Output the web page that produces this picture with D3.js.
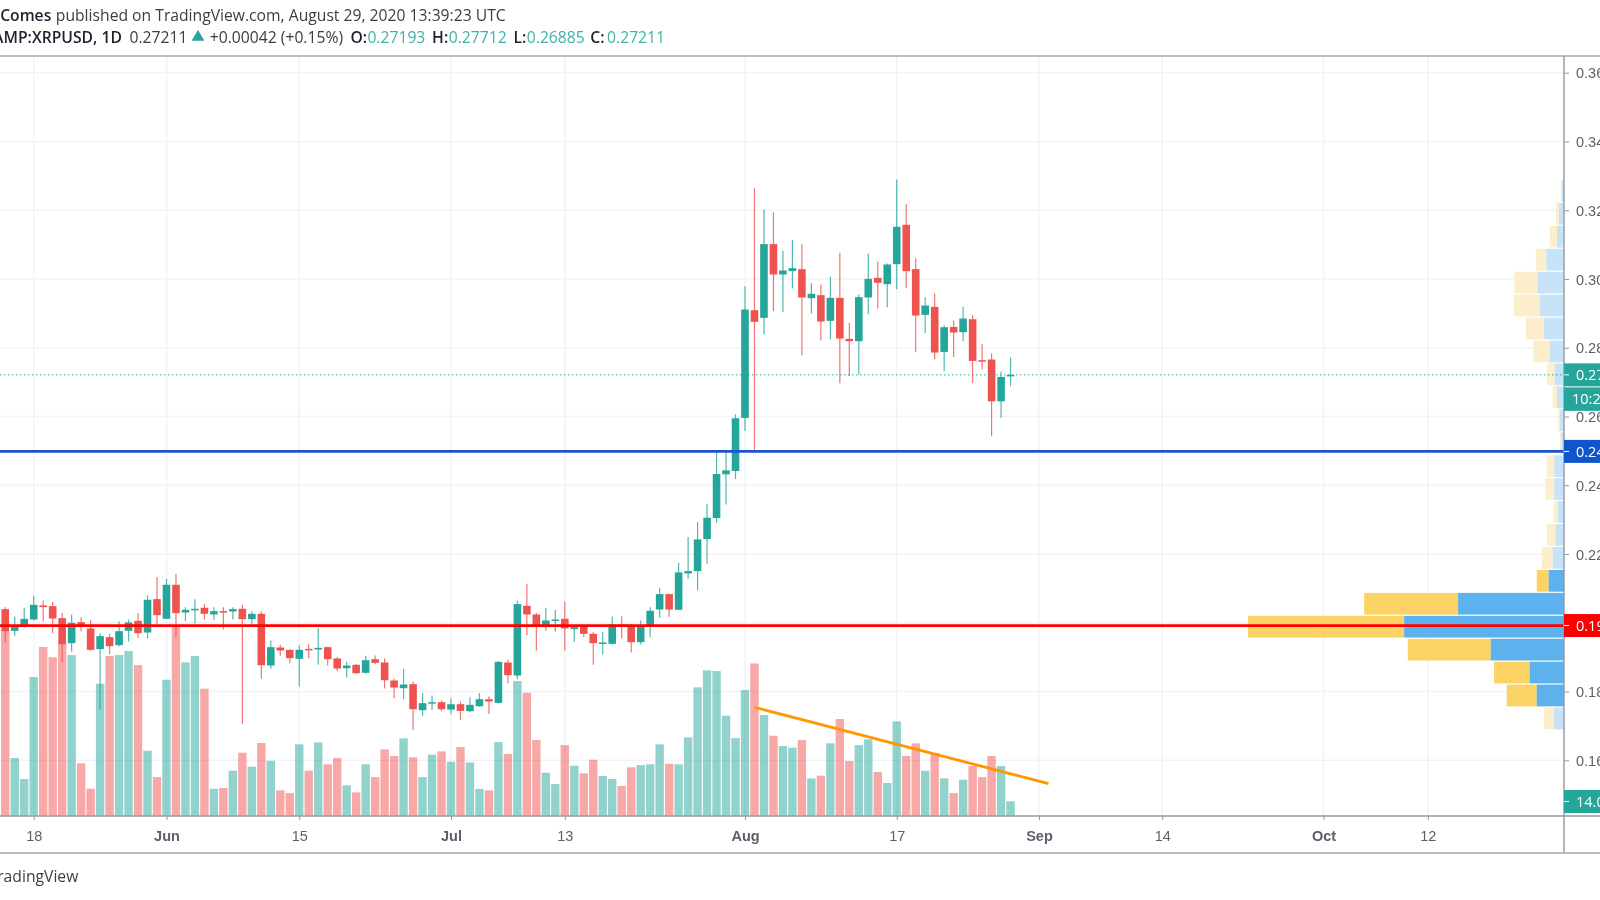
<!DOCTYPE html>
<html lang="en">

<head>
  <meta charset="UTF-8">
  <title>BITSTAMP:XRPUSD, 1D</title>
  <script src="https://d3js.org/d3.v7.min.js"></script>
  <style>
    html, body {
      margin: 0;
      padding: 0;
      background: #fff;
      overflow: hidden;
    }
    svg {
      display: block;
      font-family: "Open Sans", sans-serif;
      /* the reference is a slightly soft screenshot */
      filter: blur(0.35px);
    }
    .axis text {
      font-size: 14.5px;
      fill: #5d606b;
    }
    .axis .domain, .axis line {
      stroke: #9598a1;
    }
  </style>
</head>

<body>
  <svg id="chart" width="1600" height="900"></svg>

  <script>
    // ---------Data: daily candles---------
    const firstDay = "2020-05-15";

    const opens = [
      // May 15 - 31
      0.20397, 0.19766, 0.19883, 0.20096, 0.20504, 0.20484, 0.20135, 0.19407, 0.20019, 0.19834, 0.19233, 0.19582, 0.19349, 0.19766, 0.20057, 0.19718, 0.20688,
      // June
      0.20116, 0.21105, 0.20300, 0.20378, 0.20436, 0.20242, 0.20339, 0.20329, 0.20407, 0.20106, 0.20261, 0.18757, 0.19281, 0.19213, 0.18951, 0.19242, 0.19223, 0.19291, 0.18961, 0.18679, 0.18777, 0.18544, 0.18941, 0.18844, 0.18320, 0.18097, 0.18214, 0.17457, 0.17670, 0.17690,
      // July
      0.17476, 0.17631, 0.17428, 0.17573, 0.17777, 0.17670, 0.18844, 0.18466, 0.20494, 0.20242, 0.19873, 0.20067, 0.20116, 0.19815, 0.19902, 0.19679, 0.19398, 0.19388, 0.19951, 0.19941, 0.19436, 0.19922, 0.20387, 0.20834, 0.20378, 0.21436, 0.21504, 0.22435, 0.23046, 0.24318, 0.24415,
      // August
      0.25958, 0.29092, 0.28869, 0.31014, 0.30131, 0.30228, 0.30286, 0.29442, 0.29529, 0.28782, 0.29451, 0.28258, 0.28190, 0.29461, 0.30033, 0.29849, 0.30431, 0.31576, 0.30286, 0.28956, 0.29189, 0.27879, 0.28607, 0.28452, 0.28830, 0.27637, 0.27656, 0.26443, 0.27193
    ];

    const highs = [
      0.20455, 0.20184, 0.20436, 0.20776, 0.20649, 0.20601, 0.20281, 0.20242, 0.20164, 0.20087, 0.19698, 0.19679, 0.20038, 0.20096, 0.20281, 0.20795, 0.21329,
      0.21280, 0.21416, 0.20455, 0.20688, 0.20552, 0.20455, 0.20455, 0.20455, 0.20523, 0.20339, 0.20339, 0.19485, 0.19359, 0.19223, 0.19339, 0.19388, 0.19854, 0.19310, 0.19000, 0.18864, 0.18806, 0.19039, 0.19048, 0.18971, 0.18369, 0.18660, 0.18301, 0.17952, 0.17884, 0.17738,
      0.17796, 0.17709, 0.17835, 0.17952, 0.17855, 0.18883, 0.18932, 0.20649, 0.21135, 0.20281, 0.20436, 0.20378, 0.20620, 0.19951, 0.19951, 0.19737, 0.19728, 0.20184, 0.20193, 0.19970, 0.20067, 0.20455, 0.21018, 0.20843, 0.21746, 0.22493, 0.22930, 0.23464, 0.24997, 0.25016, 0.26064,
      0.29791, 0.32634, 0.32023, 0.31935, 0.30819, 0.31130, 0.31014, 0.29878, 0.29839, 0.30063, 0.30761, 0.28723, 0.29548, 0.30742, 0.30509, 0.30451, 0.32896, 0.32178, 0.30606, 0.29471, 0.29577, 0.28655, 0.28791, 0.29189, 0.28947, 0.28102, 0.27831, 0.27307, 0.27712
    ];

    const lows = [
      0.19417, 0.19621, 0.19854, 0.20067, 0.20048, 0.19698, 0.18854, 0.19155, 0.19747, 0.19184, 0.17476, 0.19087, 0.19320, 0.19456, 0.19563, 0.19543, 0.19970,
      0.20116, 0.19582, 0.20048, 0.19980, 0.20096, 0.20087, 0.19805, 0.20096, 0.17059, 0.19902, 0.18369, 0.18660, 0.19039, 0.18825, 0.18155, 0.18971, 0.18777, 0.18757, 0.18592, 0.18408, 0.18505, 0.18515, 0.18796, 0.18088, 0.17806, 0.17777, 0.16884, 0.17282, 0.17466, 0.17428,
      0.17340, 0.17175, 0.17399, 0.17554, 0.17350, 0.17651, 0.18243, 0.18359, 0.19640, 0.19194, 0.19766, 0.19747, 0.19194, 0.19446, 0.19582, 0.18777, 0.19077, 0.19359, 0.19543, 0.19136, 0.19368, 0.19582, 0.20145, 0.20174, 0.20370, 0.21280, 0.20941, 0.21717, 0.22911, 0.23444, 0.24182,
      0.25579, 0.25016, 0.28384, 0.29063, 0.29044, 0.29723, 0.27782, 0.28995, 0.28209, 0.28248, 0.26967, 0.27171, 0.27219, 0.28976, 0.29141, 0.29179, 0.29704, 0.29733, 0.27869, 0.28432, 0.27666, 0.27316, 0.27724, 0.28190, 0.26977, 0.27375, 0.25424, 0.25967, 0.26885
    ];

    const closes = [
      0.19757, 0.19912, 0.20116, 0.20523, 0.20455, 0.20125, 0.19378, 0.19999, 0.19883, 0.19213, 0.19611, 0.19320, 0.19757, 0.20009, 0.19698, 0.20669, 0.20222,
      0.21105, 0.20281, 0.20378, 0.20407, 0.20261, 0.20339, 0.20300, 0.20397, 0.20106, 0.20261, 0.18767, 0.19291, 0.19194, 0.18971, 0.19213, 0.19223, 0.19271, 0.18941, 0.18670, 0.18757, 0.18534, 0.18912, 0.18835, 0.18330, 0.18117, 0.18204, 0.17486, 0.17661, 0.17690, 0.17486,
      0.17631, 0.17437, 0.17612, 0.17777, 0.17709, 0.18864, 0.18476, 0.20543, 0.20242, 0.19883, 0.20067, 0.20096, 0.19834, 0.19873, 0.19679, 0.19407, 0.19427, 0.19951, 0.19912, 0.19436, 0.19912, 0.20349, 0.20834, 0.20387, 0.21465, 0.21504, 0.22425, 0.23056, 0.24327, 0.24434, 0.25948,
      0.29112, 0.28753, 0.31014, 0.30131, 0.30247, 0.30315, 0.29461, 0.29568, 0.28762, 0.29451, 0.28267, 0.28190, 0.29471, 0.30004, 0.29888, 0.30422, 0.31518, 0.30228, 0.28937, 0.29228, 0.27860, 0.28597, 0.28442, 0.28850, 0.27617, 0.27598, 0.26443, 0.27151, 0.27211
    ];

    // volume in millions
    const volumes = [
      180.1, 55.9, 35.6, 134.5, 163.6, 153.6, 167.1, 155.8, 50.8, 26.2, 128.0, 154.9, 155.8, 159.7, 146.1, 63.0, 37.5,
      131.9, 183.3, 148.7, 154.9, 123.2, 26.2, 26.8, 43.6, 61.1, 47.5, 70.5, 53.3, 24.6, 22.0, 69.2, 43.6, 71.1, 49.8, 55.9, 29.4, 22.6, 49.8, 37.5, 64.3, 57.9, 75.0, 56.6, 37.5, 59.2, 62.4,
      52.4, 66.6, 51.7, 25.9, 24.6, 71.4, 59.8, 130.6, 119.3, 73.4, 41.7, 30.7, 68.5, 48.5, 41.1, 54.3, 38.5, 35.6, 28.8, 46.9, 49.1, 49.8, 69.2, 50.4, 49.8, 76.0, 124.5, 141.0, 140.3, 97.0, 75.3,
      121.9, 147.7, 97.6, 77.6, 67.6, 66.0, 73.4, 36.2, 38.8, 70.2, 93.8, 53.0, 68.5, 74.0, 42.4, 31.7, 91.5, 57.9, 70.2, 43.6, 60.8, 36.2, 22.0, 34.9, 48.2, 37.5, 57.9, 48.2, 14.0
    ];

    // ---------Data: volume profile, bottom row first---------
    const profileLow = 0.16884;
    const profileHigh = 0.32896;
    const profileUp = [100, 273, 343, 733, 1600, 1060, 153, 113, 87, 60, 97, 97, 27, 40, 70, 93, 143, 203, 243, 267, 177, 70, 50, 23];
    const profileDown = [100, 300, 357, 830, 1563, 940, 120, 110, 83, 40, 90, 76, 13, 20, 43, 77, 164, 180, 260, 230, 106, 73, 30, 10];
    const valueAreaRows = [1, 2, 3, 4, 5, 6];

    // ---------Data: axes and drawings---------
    const priceTicks = [0.36, 0.34, 0.32, 0.30, 0.28, 0.26, 0.24, 0.22, 0.18, 0.16];
    const dateTicks = ["2020-05-18", "2020-06-01", "2020-06-15", "2020-07-01", "2020-07-13", "2020-08-01", "2020-08-17", "2020-09-01", "2020-09-14", "2020-10-01", "2020-10-12"];
    const dateLabels = ["18", "Jun", "15", "Jul", "13", "Aug", "17", "Sep", "14", "Oct", "12"];
    const priceGrid = [0.36, 0.34, 0.32, 0.30, 0.28, 0.26, 0.24, 0.22, 0.20, 0.18, 0.16];

    const lastPrice = 0.27211;
    const blueLevel = 0.24985;
    const redLevel = 0.19920;
    const trendDates = ["2020-08-02", "2020-09-02"];
    const trendPrices = [0.17543, 0.15322];

    // ---------Layout---------
    const paneRight = 1564;
    const paneTop = 56;
    const paneBottom = 816;
    const footerLine = 853;
    const green = "#26a69a";
    const red = "#ef5350";

    const svg = d3.select("#chart");
    const parseDay = d3.utcParse("%Y-%m-%d");
    const dayMs = 86400000;
    const candles = opens.map((o, i) => ({
      date: new Date(+parseDay(firstDay) + i * dayMs),
      open: o, high: highs[i], low: lows[i], close: closes[i], volume: volumes[i]
    }));

    // ---------Scales---------
    const x = d3.scaleUtc()
      .domain([parseDay("2020-08-01"), parseDay("2020-09-01")])
      .range([745, 1039]);
    const y = d3.scaleLinear().domain([0.36, 0.16]).range([72.7, 760.3]);
    const yVolume = d3.scaleLinear().domain([0, 100]).range([815.7, 712.6]);
    const profileWidth = d3.scaleLinear()
      .domain([0, d3.max(profileUp.map((u, i) => u + profileDown[i]))])
      .range([0, 316]);
    const profileStep = (profileHigh - profileLow) / profileUp.length;

    // ---------Grid---------
    svg.append("g").selectAll("line").data(priceGrid).join("line")
      .attr("x1", 0).attr("x2", paneRight)
      .attr("y1", d => y(d)).attr("y2", d => y(d))
      .attr("stroke", "#f0f3fa").attr("stroke-width", 1.5);
    svg.append("g").selectAll("line").data(dateTicks).join("line")
      .attr("x1", d => x(parseDay(d))).attr("x2", d => x(parseDay(d)))
      .attr("y1", paneTop).attr("y2", paneBottom)
      .attr("stroke", "#f0f3fa").attr("stroke-width", 1.5);

    // ---------Volume bars---------
    svg.append("g").attr("opacity", 0.5).selectAll("rect").data(candles).join("rect")
      .attr("x", d => x(d.date) - 4.2)
      .attr("width", 8.4)
      .attr("y", d => yVolume(d.volume))
      .attr("height", d => yVolume(0) - yVolume(d.volume))
      .attr("fill", d => d.close >= d.open ? green : red);

    // ---------Volume profile---------
    const rows = profileUp.map((u, i) => ({
      i: i, up: u, down: profileDown[i],
      top: y(profileLow + (i + 1) * profileStep) + 0.6,
      bottom: y(profileLow + i * profileStep) - 0.6,
      solid: valueAreaRows.includes(i)
    }));
    const profile = svg.append("g");
    profile.selectAll("rect.down").data(rows).join("rect")
      .attr("class", "down")
      .attr("x", d => paneRight - profileWidth(d.up + d.down))
      .attr("width", d => profileWidth(d.down))
      .attr("y", d => d.top).attr("height", d => d.bottom - d.top)
      .attr("fill", d => d.solid ? "#fbd365" : "#fdefcc");
    profile.selectAll("rect.up").data(rows).join("rect")
      .attr("class", "up")
      .attr("x", d => paneRight - profileWidth(d.up))
      .attr("width", d => profileWidth(d.up))
      .attr("y", d => d.top).attr("height", d => d.bottom - d.top)
      .attr("fill", d => d.solid ? "#5db1ec" : "#c7e3f7");

    // ---------Candles---------
    svg.append("g").selectAll("line").data(candles).join("line")
      .attr("x1", d => x(d.date)).attr("x2", d => x(d.date))
      .attr("y1", d => y(d.high)).attr("y2", d => y(d.low))
      .attr("stroke", d => d.close >= d.open ? green : red)
      .attr("stroke-opacity", 0.8)
      .attr("stroke-width", 1.2);
    svg.append("g").selectAll("rect").data(candles).join("rect")
      .attr("x", d => x(d.date) - 3.8)
      .attr("width", 7.6)
      .attr("y", d => y(Math.max(d.open, d.close)))
      .attr("height", d => Math.max(1.5, Math.abs(y(d.open) - y(d.close))))
      .attr("fill", d => d.close >= d.open ? green : red);

    // ---------Drawings: last price, levels, trend line---------
    svg.append("line")
      .attr("x1", 0).attr("x2", paneRight)
      .attr("y1", y(lastPrice)).attr("y2", y(lastPrice))
      .attr("stroke", green).attr("stroke-width", 1).attr("stroke-dasharray", "1.5 2.5");
    svg.append("line")
      .attr("x1", 0).attr("x2", paneRight)
      .attr("y1", y(blueLevel)).attr("y2", y(blueLevel))
      .attr("stroke", "#1e53c8").attr("stroke-width", 2.6);
    svg.append("line")
      .attr("x1", 0).attr("x2", paneRight)
      .attr("y1", y(redLevel)).attr("y2", y(redLevel))
      .attr("stroke", "#ff0000").attr("stroke-width", 2.8);
    svg.append("line")
      .attr("x1", x(parseDay(trendDates[0]))).attr("x2", x(parseDay(trendDates[1])))
      .attr("y1", y(trendPrices[0])).attr("y2", y(trendPrices[1]))
      .attr("stroke", "#ff9800").attr("stroke-width", 2.8);

    // ---------Axes---------
    svg.append("g")
      .attr("class", "axis")
      .attr("transform", `translate(0,${paneBottom})`)
      .call(d3.axisBottom(x)
        .tickValues(dateTicks.map(parseDay))
        .tickSize(4).tickPadding(11)
        .tickFormat((d, i) => dateLabels[i]))
      .call(g => g.select(".domain").remove())
      .selectAll("text")
      .attr("font-weight", (d, i) => isNaN(dateLabels[i]) ? 600 : 400);

    svg.append("g")
      .attr("class", "axis")
      .attr("transform", `translate(${paneRight},0)`)
      .call(d3.axisRight(y)
        .tickValues(priceTicks)
        .tickSize(5).tickPadding(7)
        .tickFormat(d3.format(".5f")))
      .call(g => g.select(".domain").remove())
      .selectAll("text")
      .attr("dy", "0.36em");

    svg.append("line").attr("x1", 0).attr("x2", 1600).attr("y1", paneBottom).attr("y2", paneBottom)
      .attr("stroke", "#9598a1").attr("stroke-width", 1.4);
    svg.append("line").attr("x1", paneRight).attr("x2", paneRight).attr("y1", paneTop).attr("y2", footerLine)
      .attr("stroke", "#9598a1").attr("stroke-width", 1.4);
    svg.append("line").attr("x1", 0).attr("x2", 1600).attr("y1", paneTop).attr("y2", paneTop)
      .attr("stroke", "#a5a8b2").attr("stroke-width", 1.5);
    svg.append("line").attr("x1", 0).attr("x2", 1600).attr("y1", footerLine).attr("y2", footerLine)
      .attr("stroke", "#a5a8b2").attr("stroke-width", 1.5);

    // ---------Price tags on the right axis---------
    function priceTag(value, label, fill) {
      const cy = y(value);
      svg.append("rect")
        .attr("x", paneRight).attr("y", cy - 11.5)
        .attr("width", 1600 - paneRight).attr("height", 23)
        .attr("fill", fill);
      svg.append("line")
        .attr("x1", paneRight).attr("x2", paneRight + 5)
        .attr("y1", cy).attr("y2", cy)
        .attr("stroke", "#fff");
      svg.append("text")
        .attr("x", paneRight + 12).attr("y", cy).attr("dy", "0.36em")
        .attr("font-size", 14.5).attr("fill", "#fff")
        .text(label);
    }
    priceTag(lastPrice, "0.27211", green);
    priceTag(blueLevel, "0.24999", "#1155cc");
    priceTag(redLevel, "0.19924", "#ff0000");
    priceTag(y.invert(801.5), "14.044M", green);

    svg.append("rect")
      .attr("x", paneRight).attr("y", y(lastPrice) + 12.5)
      .attr("width", 1600 - paneRight).attr("height", 23.5)
      .attr("fill", green);
    svg.append("text")
      .attr("x", paneRight + 8).attr("y", y(lastPrice) + 24).attr("dy", "0.36em")
      .attr("font-size", 14.5).attr("fill", "#fff")
      .text("10:20:37");

    // ---------Header and footer text---------
    const headerFont = 15.7;
    function label(xPos, yPos, text, color, weight, anchor) {
      svg.append("text")
        .attr("x", xPos).attr("y", yPos).attr("dy", "0.35em")
        .attr("font-size", headerFont)
        .attr("fill", color)
        .attr("font-weight", weight || 400)
        .attr("text-anchor", anchor || "start")
        .text(text);
    }
    const ink = "#3a3d46";
    const teal = "#3bb3a7";

    label(51.3, 15.5, "oComes", "#1e222d", 600, "end");
    label(55.8, 15.5, "published on TradingView.com, August 29, 2020 13:39:23 UTC", ink);

    label(121.9, 37.6, "BITSTAMP:XRPUSD, 1D", "#1e222d", 600, "end");
    label(129.5, 37.6, "0.27211", ink);
    svg.append("path")
      .attr("d", d3.symbol(d3.symbolTriangle, 70))
      .attr("transform", "translate(198,37)")
      .attr("fill", green);
    label(209.8, 37.6, "+0.00042 (+0.15%)", ink);
    label(350.4, 37.6, "O:", "#1e222d", 600);
    label(367.4, 37.6, "0.27193", teal);
    label(432.1, 37.6, "H:", "#1e222d", 600);
    label(448.7, 37.6, "0.27712", teal);
    label(513.4, 37.6, "L:", "#1e222d", 600);
    label(526.8, 37.6, "0.26885", teal);
    label(590.2, 37.6, "C:", "#1e222d", 600);
    label(607.1, 37.6, "0.27211", teal);

    label(78.3, 876.7, "TradingView", ink, 400, "end");
  </script>
</body>

</html>
